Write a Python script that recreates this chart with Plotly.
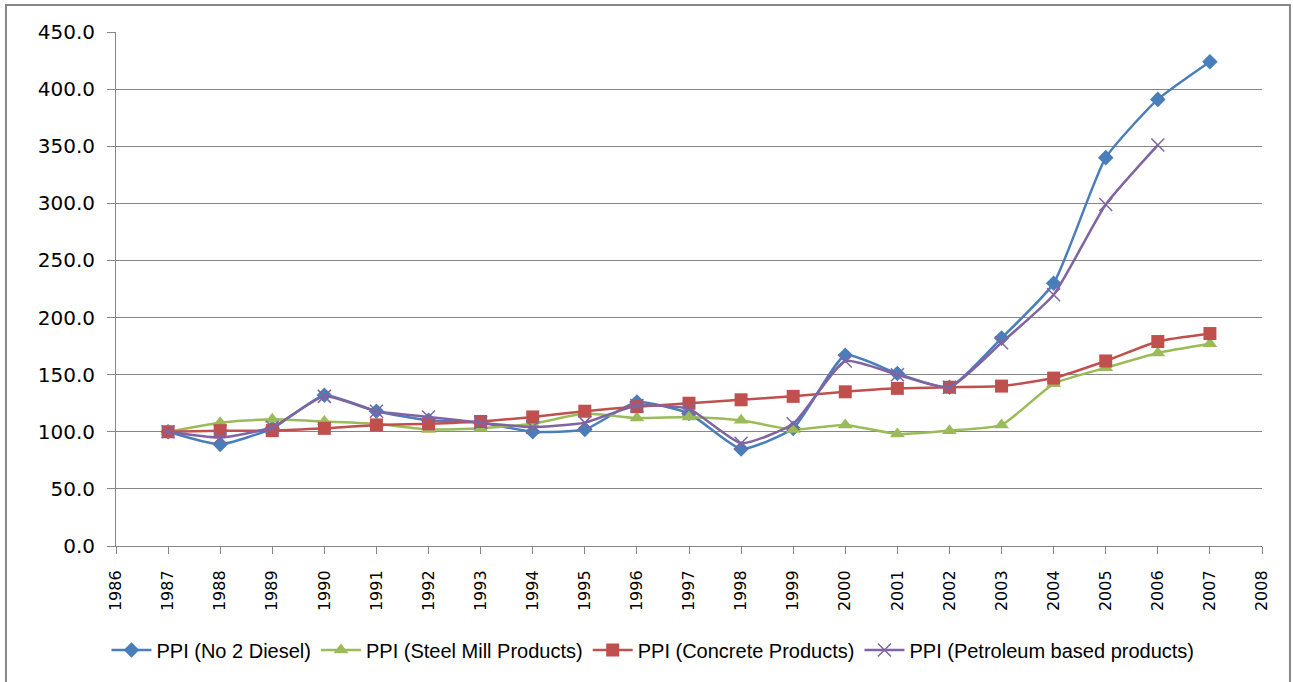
import plotly.graph_objects as go

years = list(range(1987, 2008))

diesel = [100, 89, 103, 132, 118, 110, 108, 100, 102, 126, 116, 85, 103, 167, 151, 139, 182, 230, 340, 391, 424]
steel = [100, 108, 111, 109, 107, 102, 103, 107, 116, 112, 113, 110, 102, 106, 98, 101, 106, 142, 156, 169, 177]
concrete = [100, 101, 101, 103, 106, 107, 109, 113, 118, 122, 125, 128, 131, 135, 138, 139, 140, 147, 162, 179, 186]
petroleum = [100, 95, 104, 131, 118, 113, 108, 104, 108, 123, 120, 90, 107, 162, 150, 139, 178, 220, 299, 351, None]

names = ["PPI (No 2 Diesel)", "PPI (Steel Mill Products)", "PPI (Concrete Products)",
         "PPI (Petroleum based products)"]
colors = ["#4A7EBB", "#9BBB59", "#C0504D", "#8064A2"]

fig = go.Figure()
fig.add_trace(go.Scatter(x=years, y=diesel, name=names[0], mode="lines+markers",
                         line=dict(color=colors[0], width=2.5, shape="spline", smoothing=0.5),
                         marker=dict(symbol="diamond", size=12, color=colors[0])))
fig.add_trace(go.Scatter(x=years, y=steel, name=names[1], mode="lines+markers",
                         line=dict(color=colors[1], width=2.5, shape="spline", smoothing=0.5),
                         marker=dict(symbol="triangle-up", size=13, color=colors[1])))
fig.add_trace(go.Scatter(x=years, y=concrete, name=names[2], mode="lines+markers",
                         line=dict(color=colors[2], width=2.5, shape="spline", smoothing=0.5),
                         marker=dict(symbol="square", size=13, color=colors[2])))
fig.add_trace(go.Scatter(x=years, y=petroleum, name=names[3], mode="lines+markers",
                         line=dict(color=colors[3], width=2.5, shape="spline", smoothing=0.5),
                         marker=dict(symbol="x-thin-open", size=13, color=colors[3],
                                     line=dict(color=colors[3], width=1.5))))

fig.update_layout(
    width=1293, height=682,
    paper_bgcolor="white", plot_bgcolor="white",
    margin=dict(l=116, r=31, t=32, b=136),
    font=dict(family="DejaVu Sans, Verdana, sans-serif", color="#000000"),
    showlegend=True,
    legend=dict(orientation="h", xref="container", yref="container",
                x=0.505, xanchor="center", y=0.047, yanchor="middle",
                font=dict(family="Liberation Sans Narrow, Arial Narrow, Liberation Sans, sans-serif",
                          size=20, color="#000000"),
                itemwidth=40, tracegroupgap=0),
    xaxis=dict(range=[1986, 2008], tick0=1986, dtick=1, tickangle=-90,
               ticks="outside", ticklen=7, tickcolor="#868686",
               showline=True, linecolor="#868686", linewidth=1,
               showgrid=False, zeroline=False, ticklabelstandoff=10,
               tickfont=dict(family="DejaVu Sans, Verdana, sans-serif", size=16)),
    yaxis=dict(range=[0, 450], dtick=50, tickformat=".1f",
               ticks="outside", ticklen=8, tickcolor="#868686",
               showline=True, linecolor="#868686", linewidth=1,
               showgrid=True, gridcolor="#868686", gridwidth=1, zeroline=False,
               ticklabelstandoff=8,
               tickfont=dict(family="DejaVu Sans, Verdana, sans-serif", size=20)),
    shapes=[dict(type="rect", xref="paper", yref="paper",
                 x0=-0.096, x1=1.0244, y0=-0.28, y1=1.0525,
                 line=dict(color="#868686", width=2), fillcolor="rgba(0,0,0,0)")],
)

fig.write_html("out.html", config={"displayModeBar": False},
               post_script="document.body.style.margin='0px';")
